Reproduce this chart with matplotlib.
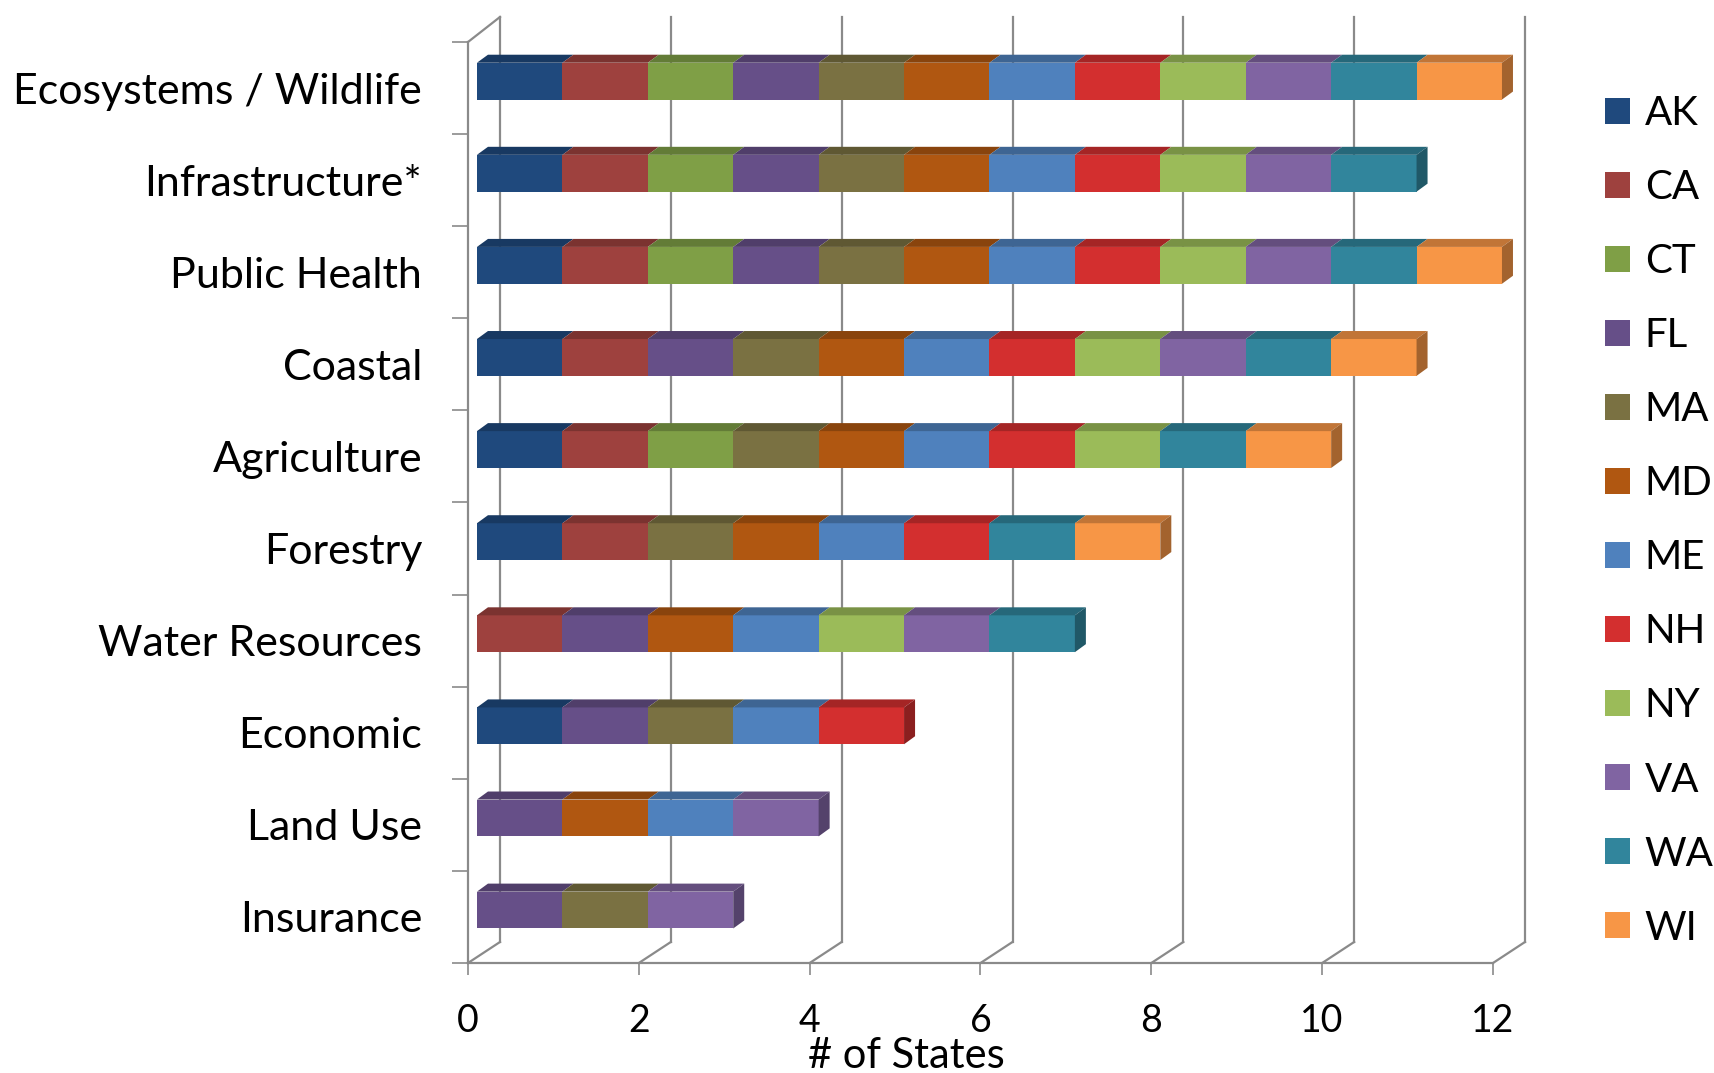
import numpy as np
import matplotlib
matplotlib.use("Agg")
import matplotlib.pyplot as plt
from matplotlib.patches import Polygon, Patch
from matplotlib.colors import to_rgb

plt.rcParams['font.family'] = ['Lato', 'DejaVu Sans']

categories = ["Ecosystems / Wildlife", "Infrastructure*", "Public Health", "Coastal",
              "Agriculture", "Forestry", "Water Resources", "Economic", "Land Use", "Insurance"]
states = ["AK", "CA", "CT", "FL", "MA", "MD", "ME", "NH", "NY", "VA", "WA", "WI"]

# 1 = state covers the sector (same order as categories)
AK = [1, 1, 1, 1, 1, 1, 0, 1, 0, 0]
CA = [1, 1, 1, 1, 1, 1, 1, 0, 0, 0]
CT = [1, 1, 1, 0, 1, 0, 0, 0, 0, 0]
FL = [1, 1, 1, 1, 0, 0, 1, 1, 1, 1]
MA = [1, 1, 1, 1, 1, 1, 0, 1, 0, 1]
MD = [1, 1, 1, 1, 1, 1, 1, 0, 1, 0]
ME = [1, 1, 1, 1, 1, 1, 1, 1, 1, 0]
NH = [1, 1, 1, 1, 1, 1, 0, 1, 0, 0]
NY = [1, 1, 1, 1, 1, 0, 1, 0, 0, 0]
VA = [1, 1, 1, 1, 0, 0, 1, 0, 1, 1]
WA = [1, 1, 1, 1, 1, 1, 1, 0, 0, 0]
WI = [1, 0, 1, 1, 1, 1, 0, 0, 0, 0]
values = np.array([AK, CA, CT, FL, MA, MD, ME, NH, NY, VA, WA, WI])

colors = ["#1F497D", "#9E413E", "#7F9F46", "#664F88", "#7A7142", "#B05711",
          "#4F81BD", "#D32F2F", "#9BBB59", "#8064A2", "#31859C", "#F79646"]
xticks = [0, 2, 4, 6, 8, 10, 12]

grid_c = "#8a8a8a"


def shade(c, f):
    r, g, b = to_rgb(c)
    return (r * f, g * f, b * f)


W, H = 1715, 1073
fig = plt.figure(figsize=(W / 100, H / 100), dpi=100)
ax = fig.add_axes([468 / W, 1 - 963 / H, 1025 / W, 921 / H])
n = len(categories)
ax.set_xlim(0, 12)
ax.set_ylim(-0.5, n - 0.5)

# 3d depth of the walls and of the bars (data units)
wdx, wdy_b, wdy_t = 32 / 85.4, 21 / 92, 25 / 92
bdx, bdy = 11 / 85.4, 8 / 92
x0, bh, boff = 0.105, 0.40, 0.075

# back wall gridlines and floor lines
for k in xticks:
    ax.plot([k + wdx, k + wdx], [-0.5 + wdy_b, n - 0.5 + wdy_t], color=grid_c, lw=1.6,
            clip_on=False, zorder=1)
    ax.plot([k, k + wdx], [-0.5, -0.5 + wdy_b], color=grid_c, lw=1.6, clip_on=False, zorder=1)
ax.plot([0, wdx], [n - 0.5, n - 0.5 + wdy_t], color=grid_c, lw=1.6, clip_on=False, zorder=1)

# stacked 3d bars
ypos = np.arange(n)[::-1]
cum = np.zeros(n)
for s in range(len(states)):
    v = values[s]
    for i in range(n):
        if v[i] == 0:
            continue
        l = x0 + cum[i]
        r = l + v[i]
        yc = ypos[i] + boff
        bot, top = yc - bh / 2, yc + bh / 2
        bars = ax.barh(yc, v[i], left=l, height=bh, color=colors[s], lw=0, zorder=3)
        for p in bars:
            p.set_clip_on(False)
        ax.add_patch(Polygon([(l, top), (r, top), (r + bdx, top + bdy), (l + bdx, top + bdy)],
                             closed=True, fc=shade(colors[s], 0.78), lw=0, zorder=3, clip_on=False))
        if cum[i] + v[i] == values[:, i].sum():
            ax.add_patch(Polygon([(r, bot), (r, top), (r + bdx, top + bdy), (r + bdx, bot + bdy)],
                                 closed=True, fc=shade(colors[s], 0.66), lw=0, zorder=3,
                                 clip_on=False))
    cum += v

for side in ["top", "right"]:
    ax.spines[side].set_visible(False)
for side in ["left", "bottom"]:
    ax.spines[side].set_color(grid_c)
    ax.spines[side].set_linewidth(1.6)

ax.set_xticks(xticks)
ax.set_xticklabels([str(t) for t in xticks], fontsize=27)
ax.tick_params(axis="x", direction="out", length=8.6, width=1.2, color=grid_c, pad=20)
ax.set_yticks(ypos)
ax.set_yticklabels(categories, fontsize=31)
ax.tick_params(axis="y", length=0, pad=33)
ax.set_yticks(np.arange(-0.5, n), minor=True)
ax.tick_params(axis="y", which="minor", direction="out", length=11.5, width=1.2, color=grid_c)

ax.text((906 - 468) / 1025, (963 - 1056) / 921, "# of States", transform=ax.transAxes,
        ha="center", va="center", fontsize=30)

handles = [Patch(fc=c, lw=0) for c in colors]
fig.legend(handles, states, loc="upper left", bbox_to_anchor=(1605 / W, 1 - 95 / H),
           frameon=False, fontsize=29, handlelength=0.62, handleheight=0.62,
           handletextpad=0.37, labelspacing=0.92, borderpad=0, borderaxespad=0)

fig.savefig("out.png", dpi=100)
